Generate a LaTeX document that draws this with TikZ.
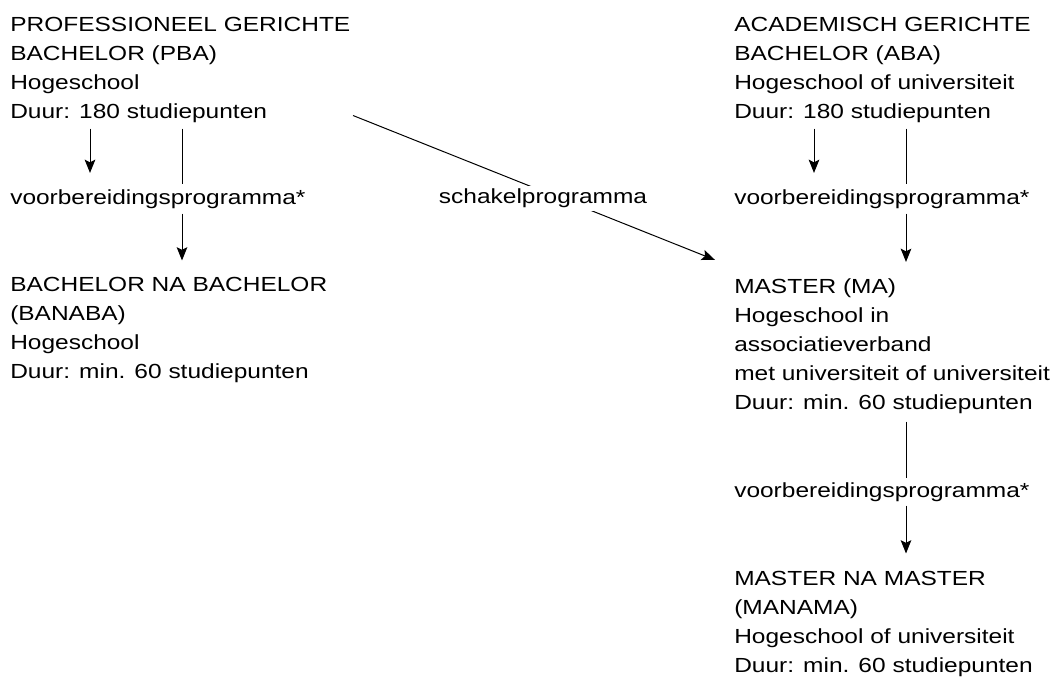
\documentclass[tikz,border=0pt]{standalone}
\usepackage{fontspec}
\setmainfont{Liberation Sans}[FakeStretch=1.2]
\usetikzlibrary{arrows.meta,calc,positioning}

\begin{document}
\begin{tikzpicture}[x=0.75pt,y=-0.75pt,
	blok/.style={anchor=base west, inner sep=0pt, align=left, font=\fontsize{15.3pt}{21.75pt}\selectfont},
	pijl/.style={line width=0.75pt, -{Stealth[length=10pt,width=8pt,inset=2pt]}},
	lijn/.style={line width=0.75pt}]
	\useasboundingbox (0,0) rectangle (1060,678);

	% linkerkolom (ankers op de laatste regel)
	\node[blok] (pba) at (10,118) {PROFESSIONEEL GERICHTE\\BACHELOR (PBA)\\Hogeschool\\Duur: 180 studiepunten};
	\node[blok] (voorbL) at (10,204) {voorbereidingsprogramma*};
	\node[blok] (banaba) at (10,378) {BACHELOR NA BACHELOR\\(BANABA)\\Hogeschool\\Duur: min. 60 studiepunten};

	% rechterkolom
	\node[blok] (aba) at (734,118) {ACADEMISCH GERICHTE\\BACHELOR (ABA)\\Hogeschool of universiteit\\Duur: 180 studiepunten};
	\node[blok] (voorbR) at (734,204) {voorbereidingsprogramma*};
	\node[blok] (ma) at (734,409) {MASTER (MA)\\Hogeschool in\\associatieverband\\met universiteit of universiteit\\Duur: min. 60 studiepunten};
	\node[blok] (voorbM) at (734,497) {voorbereidingsprogramma*};
	\node[blok] (manama) at (734,672) {MASTER NA MASTER\\(MANAMA)\\Hogeschool of universiteit\\Duur: min. 60 studiepunten};

	% pijlen links
	\draw[pijl] ($(pba.south west)+(80,6)$) -- ($(voorbL.north west)+(80,-16)$);
	\draw[lijn] ($(pba.south west)+(172,6)$) -- ($(voorbL.north west)+(172,-5)$);
	\draw[pijl] ($(voorbL.south west)+(172,5)$) -- ($(banaba.north west)+(172,-16)$);

	% pijlen rechts
	\draw[pijl] ($(aba.south west)+(80,6)$) -- ($(voorbR.north west)+(80,-16)$);
	\draw[lijn] ($(aba.south west)+(172,6)$) -- ($(voorbR.north west)+(172,-5)$);
	\draw[pijl] ($(voorbR.south west)+(172,5)$) -- ($(ma.north west)+(172,-16)$);
	\draw[lijn] ($(ma.south west)+(172,8)$) -- ($(voorbM.north west)+(172,-4)$);
	\draw[pijl] ($(voorbM.south west)+(172,4)$) -- ($(manama.north west)+(172,-17)$);

	% schakelprogramma
	\draw[pijl] ($(pba.south west)+(343,-7)$) -- node[pos=0.525, yshift=-5.5pt, fill=white, inner sep=2pt, font=\fontsize{15.3pt}{21.75pt}\selectfont] (schakel) {schakelprogramma} ($(ma.north west)+(-19,-18)$);
\end{tikzpicture}
\end{document}
